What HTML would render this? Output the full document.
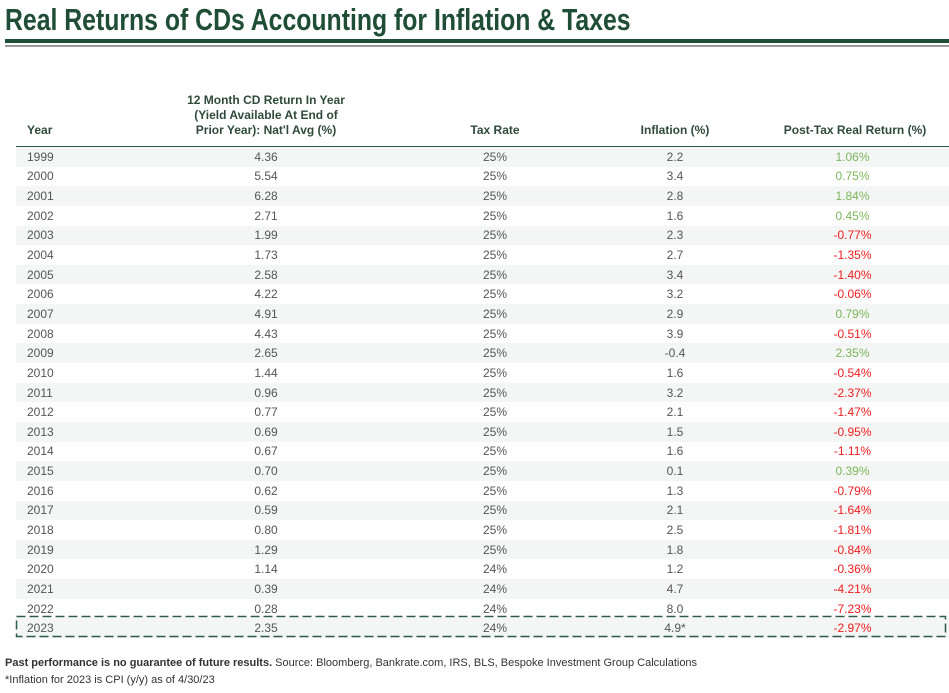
<!DOCTYPE html>
<html><head><meta charset="utf-8"><style>
body{margin:0;width:949px;height:693px;background:#fff;position:relative;overflow:hidden;font-family:"Liberation Sans",Arial,sans-serif}
.t{position:absolute;left:5px;top:2px;font-size:31px;font-weight:bold;color:#1f4d36;white-space:nowrap;transform:scaleX(0.80);transform-origin:left top;letter-spacing:0}
.b1{position:absolute;left:5px;top:39px;width:944px;height:4px;background:#1f4d36}
.b2{position:absolute;left:5px;top:45px;width:944px;height:2px;background:#999}
.h{position:absolute;font-size:12px;font-weight:bold;color:#2f4a3b;line-height:15px;text-align:center}
.hl{position:absolute;left:16px;top:146px;width:933px;height:1px;background:#2f5a45}
table{position:absolute;left:16px;top:147px;width:933px;border-collapse:collapse;font-size:12px;color:#555;table-layout:fixed}
td{height:19.65px;padding:0;text-align:center}
td:first-child{text-align:left;padding-left:11px}
tr:nth-child(odd){background:#f4f6f5}
.g{color:#7cb55a}.r{color:#f01c1c}
.f{position:absolute;left:5px;font-size:11px;color:#333}
</style></head><body>
<div class="t">Real Returns of CDs Accounting for Inflation &amp; Taxes</div>
<div class="b1"></div><div class="b2"></div>
<div class="h" style="left:27px;top:123px;text-align:left">Year</div>
<div class="h" style="left:166px;top:93px;width:200px">12 Month CD Return In Year<br>(Yield Available At End of<br>Prior Year): Nat'l Avg (%)</div>
<div class="h" style="left:445px;top:123px;width:100px">Tax Rate</div>
<div class="h" style="left:615px;top:123px;width:120px">Inflation (%)</div>
<div class="h" style="left:765px;top:123px;width:180px">Post-Tax Real Return (%)</div>
<div class="hl"></div>
<table>
<colgroup><col style="width:120px"><col style="width:260px"><col style="width:198px"><col style="width:162px"><col style="width:193px"></colgroup>
<tr><td>1999</td><td>4.36</td><td>25%</td><td>2.2</td><td class="g">1.06%</td></tr>
<tr><td>2000</td><td>5.54</td><td>25%</td><td>3.4</td><td class="g">0.75%</td></tr>
<tr><td>2001</td><td>6.28</td><td>25%</td><td>2.8</td><td class="g">1.84%</td></tr>
<tr><td>2002</td><td>2.71</td><td>25%</td><td>1.6</td><td class="g">0.45%</td></tr>
<tr><td>2003</td><td>1.99</td><td>25%</td><td>2.3</td><td class="r">-0.77%</td></tr>
<tr><td>2004</td><td>1.73</td><td>25%</td><td>2.7</td><td class="r">-1.35%</td></tr>
<tr><td>2005</td><td>2.58</td><td>25%</td><td>3.4</td><td class="r">-1.40%</td></tr>
<tr><td>2006</td><td>4.22</td><td>25%</td><td>3.2</td><td class="r">-0.06%</td></tr>
<tr><td>2007</td><td>4.91</td><td>25%</td><td>2.9</td><td class="g">0.79%</td></tr>
<tr><td>2008</td><td>4.43</td><td>25%</td><td>3.9</td><td class="r">-0.51%</td></tr>
<tr><td>2009</td><td>2.65</td><td>25%</td><td>-0.4</td><td class="g">2.35%</td></tr>
<tr><td>2010</td><td>1.44</td><td>25%</td><td>1.6</td><td class="r">-0.54%</td></tr>
<tr><td>2011</td><td>0.96</td><td>25%</td><td>3.2</td><td class="r">-2.37%</td></tr>
<tr><td>2012</td><td>0.77</td><td>25%</td><td>2.1</td><td class="r">-1.47%</td></tr>
<tr><td>2013</td><td>0.69</td><td>25%</td><td>1.5</td><td class="r">-0.95%</td></tr>
<tr><td>2014</td><td>0.67</td><td>25%</td><td>1.6</td><td class="r">-1.11%</td></tr>
<tr><td>2015</td><td>0.70</td><td>25%</td><td>0.1</td><td class="g">0.39%</td></tr>
<tr><td>2016</td><td>0.62</td><td>25%</td><td>1.3</td><td class="r">-0.79%</td></tr>
<tr><td>2017</td><td>0.59</td><td>25%</td><td>2.1</td><td class="r">-1.64%</td></tr>
<tr><td>2018</td><td>0.80</td><td>25%</td><td>2.5</td><td class="r">-1.81%</td></tr>
<tr><td>2019</td><td>1.29</td><td>25%</td><td>1.8</td><td class="r">-0.84%</td></tr>
<tr><td>2020</td><td>1.14</td><td>24%</td><td>1.2</td><td class="r">-0.36%</td></tr>
<tr><td>2021</td><td>0.39</td><td>24%</td><td>4.7</td><td class="r">-4.21%</td></tr>
<tr><td>2022</td><td>0.28</td><td>24%</td><td>8.0</td><td class="r">-7.23%</td></tr>
<tr><td>2023</td><td>2.35</td><td>24%</td><td>4.9*</td><td class="r">-2.97%</td></tr>
</table>
<svg style="position:absolute;left:0;top:0" width="949" height="693"><rect x="16.5" y="616.5" width="929" height="20" fill="none" stroke="#2f5a45" stroke-width="1.5" stroke-dasharray="9,4"/></svg>
<div class="f" style="top:657px"><b>Past performance is no guarantee of future results.</b> Source: Bloomberg, Bankrate.com, IRS, BLS, Bespoke Investment Group Calculations</div>
<div class="f" style="top:674px">*Inflation for 2023 is CPI (y/y) as of 4/30/23</div>
</body></html>
